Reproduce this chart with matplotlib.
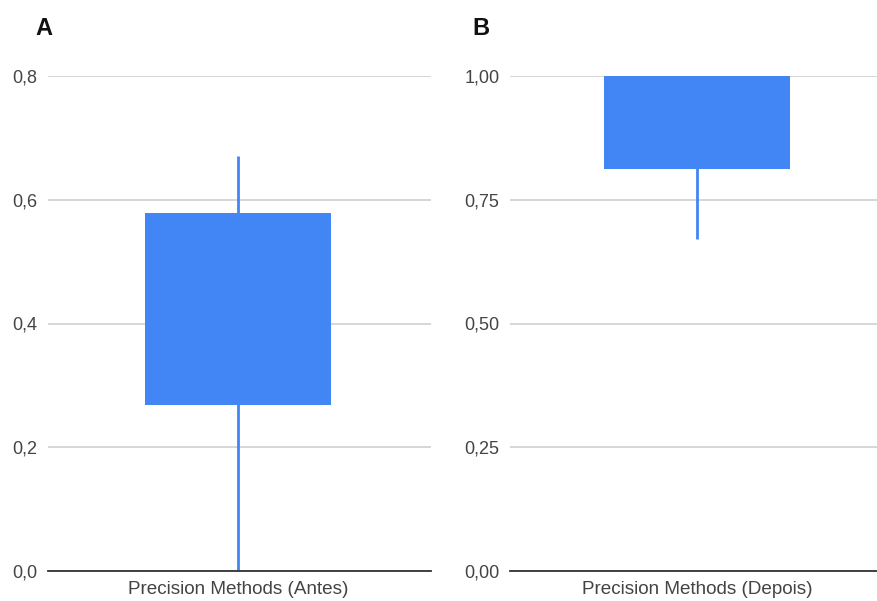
import matplotlib
matplotlib.use("Agg")
import matplotlib.pyplot as plt

# Data (candlestick-style box: low, q1, q3, high)
cat_a = ["Precision Methods (Antes)"]
low_a, q1_a, q3_a, high_a = [0.0], [0.268], [0.578], [0.671]
ticks_a = [0.0, 0.2, 0.4, 0.6, 0.8]
ticklabels_a = ["0,0", "0,2", "0,4", "0,6", "0,8"]

cat_b = ["Precision Methods (Depois)"]
low_b, q1_b, q3_b, high_b = [0.671], [0.812], [1.0], [1.0]
ticks_b = [0.0, 0.25, 0.5, 0.75, 1.0]
ticklabels_b = ["0,00", "0,25", "0,50", "0,75", "1,00"]

BLUE = "#4285F4"
W, H = 877, 601
plt.rcParams['font.family'] = ['Liberation Sans', 'DejaVu Sans']

fig = plt.figure(figsize=(W / 100, H / 100), dpi=100)

def make_ax(left, right, bottom_px, top_px):
    return fig.add_axes([left / W, 1 - bottom_px / H, (right - left) / W, (bottom_px - top_px) / H])

def draw(ax, cats, low, q1, q3, high, ticks, labels, xlim, width):
    x = list(range(len(cats)))
    ax.vlines(x, low, high, color=BLUE, lw=2, zorder=2)
    ax.bar(x, [b - a for a, b in zip(q1, q3)], bottom=q1, width=width, color=BLUE, zorder=3)
    ax.set_xlim(*xlim)
    ax.set_ylim(ticks[0], ticks[-1])
    ax.set_yticks(ticks)
    ax.set_yticklabels(labels)
    ax.set_xticks(x)
    ax.set_xticklabels(cats)
    for s in ["top", "right", "left"]:
        ax.spines[s].set_visible(False)
    ax.spines["bottom"].set_color("#333333")
    ax.spines["bottom"].set_linewidth(1.3)
    ax.spines["bottom"].set_zorder(4)
    ax.grid(axis="y", color="#cccccc", lw=1.1, zorder=0)
    ax.set_axisbelow(True)
    ax.tick_params(axis="y", length=0, pad=7.5, labelsize=13, labelcolor="#444444")
    ax.tick_params(axis="x", length=0, pad=7, labelsize=13.6, labelcolor="#444444")
    ax.patch.set_alpha(0)

ax_a = make_ax(48, 431, 571, 76)
draw(ax_a, cat_a, low_a, q1_a, q3_a, high_a, ticks_a, ticklabels_a, (-0.496, 0.504), 0.486)

ax_b = make_ax(510, 877, 571, 76)
draw(ax_b, cat_b, low_b, q1_b, q3_b, high_b, ticks_b, ticklabels_b, (-0.5, 0.481), 0.495)

fig.text(35 / W, 1 - 35 / H, "A", fontsize=17, fontweight="bold", color="#111111", ha="left", va="baseline")
fig.text(472 / W, 1 - 35 / H, "B", fontsize=17, fontweight="bold", color="#111111", ha="left", va="baseline")

fig.savefig("out.png", dpi=100, facecolor="white")
